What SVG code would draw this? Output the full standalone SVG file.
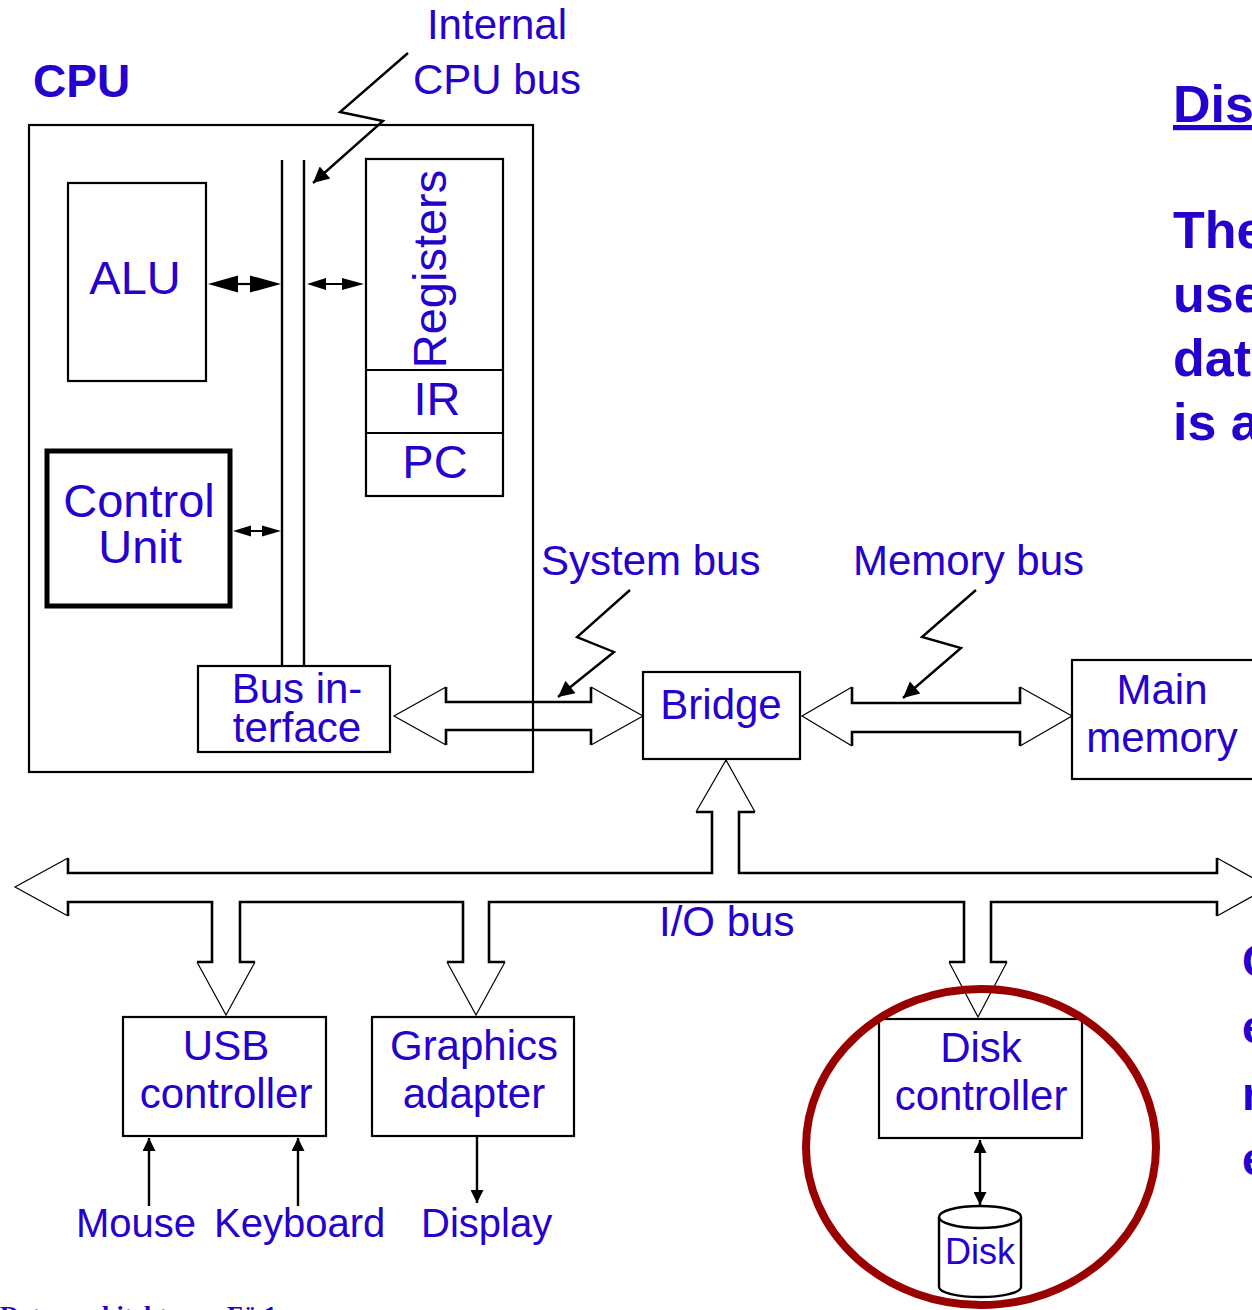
<svg xmlns="http://www.w3.org/2000/svg" width="1252" height="1310" viewBox="0 0 1252 1310">
<style>
.t{font-family:"Liberation Sans",Arial,sans-serif;fill:#2600cc;font-size:42px}
.b{font-weight:bold;font-size:46px}
.s{font-weight:bold;font-size:52px}
.m{text-anchor:middle}
.box{fill:none;stroke:#000;stroke-width:2.2}
.thk{fill:none;stroke:#000;stroke-width:2.6}
.thn{fill:none;stroke:#000;stroke-width:1.2}
.ln{fill:none;stroke:#000;stroke-width:2.4}
.f{font-family:"Liberation Serif","Times New Roman",serif;font-weight:bold;font-size:26px;fill:#2600cc}
</style>
<defs>
<marker id="ah" viewBox="0 0 10 10" refX="10" refY="5" markerWidth="22" markerHeight="16" markerUnits="userSpaceOnUse" orient="auto-start-reverse"><path d="M0,0 L10,5 L0,10 Z" fill="#000"/></marker>
<marker id="as" viewBox="0 0 10 10" refX="10" refY="5" markerWidth="17" markerHeight="13" markerUnits="userSpaceOnUse" orient="auto-start-reverse"><path d="M0,0 L10,5 L0,10 Z" fill="#000"/></marker>
</defs>
<rect width="1252" height="1310" fill="#fff"/>

<g id="cpu">
<rect class="box" x="29" y="125" width="504" height="647"/>
<text class="t b" x="33" y="97">CPU</text>
</g>
<g id="alu">
<rect class="box" x="68" y="183" width="138" height="198"/>
<text class="t m" x="135" y="294" style="font-size:47px">ALU</text>
</g>
<g id="registers">
<rect class="box" x="366" y="159" width="137" height="337"/>
<line class="box" x1="366" y1="370" x2="503" y2="370"/>
<line class="box" x1="366" y1="433" x2="503" y2="433"/>
<text class="t m" transform="translate(446,269) rotate(-90)" style="font-size:47px">Registers</text>
<text class="t m" x="437" y="415" style="font-size:47px">IR</text>
<text class="t m" x="435" y="478" style="font-size:47px">PC</text>
</g>
<g id="control-unit">
<rect x="47" y="451" width="183" height="155" fill="none" stroke="#000" stroke-width="5"/>
<text class="t m" x="139" y="517" style="font-size:47px">Control</text>
<text class="t m" x="140" y="563" style="font-size:47px">Unit</text>
</g>
<g id="internal-bus">
<line class="ln" x1="282" y1="160" x2="282" y2="666"/>
<line class="ln" x1="304" y1="160" x2="304" y2="666"/>
<text class="t m" x="497" y="39">Internal</text>
<text class="t" x="413" y="94">CPU bus</text>
</g>
<g id="bus-interface">
<rect class="box" x="198" y="666" width="192" height="86"/>
<text class="t m" x="297" y="703">Bus in-</text>
<text class="t m" x="297" y="742">terface</text>
</g>
<g id="bridge">
<rect class="box" x="643" y="672" width="157" height="87"/>
<text class="t m" x="721" y="719">Bridge</text>
</g>
<g id="main-memory">
<rect class="box" x="1072" y="660" width="190" height="119"/>
<text class="t m" x="1162" y="704">Main</text>
<text class="t m" x="1162" y="752">memory</text>
</g>
<g id="usb-controller">
<rect class="box" x="123" y="1017" width="203" height="119"/>
<text class="t m" x="226" y="1060">USB</text>
<text class="t m" x="226" y="1108">controller</text>
</g>
<g id="graphics-adapter">
<rect class="box" x="372" y="1017" width="202" height="119"/>
<text class="t m" x="474" y="1060">Graphics</text>
<text class="t m" x="474" y="1108">adapter</text>
</g>
<g id="disk-controller">
<rect class="box" x="879" y="1019" width="203" height="119"/>
<text class="t m" x="981" y="1062">Disk</text>
<text class="t m" x="981" y="1110">controller</text>
</g>
<g id="disk">
<path d="M939,1217 V1287 A41,10 0 0 0 1021,1287 V1217" fill="#fff" stroke="#000" stroke-width="2.4"/>
<ellipse cx="980" cy="1217" rx="41" ry="11" fill="#fff" stroke="#000" stroke-width="2.4"/>
<text class="t m" x="980" y="1264" style="font-size:36px">Disk</text>
</g>
<g id="labels">
<text class="t" x="541" y="575">System bus</text>
<text class="t" x="853" y="575">Memory bus</text>
<text class="t" x="659" y="936">I/O bus</text>
<text class="t" x="76" y="1237" style="font-size:40px">Mouse</text>
<text class="t" x="214" y="1237" style="font-size:40px">Keyboard</text>
<text class="t" x="421" y="1237" style="font-size:40px">Display</text>
</g>
<g id="side-text">
<text class="t s" x="1173" y="122" text-decoration="underline">Dis</text>
<text class="t s" x="1173" y="248">The</text>
<text class="t s" x="1173" y="312">use</text>
<text class="t s" x="1173" y="376">dat</text>
<text class="t s" x="1173" y="440">is a</text>
<text class="t b" x="1242" y="977">C</text>
<text class="t b" x="1242" y="1043">e</text>
<text class="t b" x="1242" y="1110">r</text>
<text class="t b" x="1242" y="1175">e</text>
<text class="f" x="0" y="1324">Datenarchitektur</text>
<text class="f" x="227" y="1324">Fü 1</text>
</g>

<g id="connectors">
<polyline class="ln" points="408,53 340,112 383,121 313,183" stroke-width="2.2" marker-end="url(#ah)"/>
<polyline class="ln" points="630,590 577,637 614,652 558,697" stroke-width="2.2" marker-end="url(#ah)"/>
<polyline class="ln" points="976,590 922,637 961,648 903,698" stroke-width="2.2" marker-end="url(#ah)"/>
<line x1="236" y1="284" x2="252" y2="284" stroke="#000" stroke-width="2.2"/>
<path d="M208,284 L238,275.5 L238,292.5 Z M281,284 L250,275.5 L250,292.5 Z" fill="#000"/>
<line x1="324" y1="284" x2="344" y2="284" stroke="#000" stroke-width="2"/>
<path d="M307,284 L326,278 L326,290 Z M364,284 L342,278 L342,290 Z" fill="#000"/>
<line x1="248" y1="531" x2="264" y2="531" stroke="#000" stroke-width="2"/>
<path d="M233,531 L251,525.5 L251,536.5 Z M281,531 L262,525.5 L262,536.5 Z" fill="#000"/>
<path class="thn" d="M446,687 L394,716 L446,745 M591,687 L643,716 L591,745"/>
<path class="thk" d="M446,687 V702 H591 V687 M591,745 V730 H446 V745"/>
<path class="thn" d="M852,687 L802,716 L852,746 M1020,687 L1072,716 L1020,746"/>
<path class="thk" d="M852,687 V703 H1020 V687 M1020,746 V732 H852 V746"/>
<path class="thn" d="M696,812 L726,760 L755,812 M1217,858 L1269,887 L1217,916 M1007,962 L978,1017 L949,962 M505,962 L476,1015 L447,962 M255,962 L226,1015 L197,962 M68,916 L15,887 L68,858"/>
<path class="thk" d="M68,858 V873 H712 V812 H696 M755,812 H739 V873 H1217 V858 M1217,916 V902 H991 V962 H1007 M949,962 H964 V902 H489 V962 H505 M447,962 H463 V902 H240 V962 H255 M197,962 H212 V902 H68 V916"/>
<line class="ln" x1="149" y1="1206" x2="149" y2="1138" marker-end="url(#as)"/>
<line class="ln" x1="298" y1="1206" x2="298" y2="1138" marker-end="url(#as)"/>
<line class="ln" x1="477" y1="1137" x2="477" y2="1203" marker-end="url(#as)"/>
<line class="ln" x1="980" y1="1140" x2="980" y2="1205" stroke-width="3" marker-start="url(#as)" marker-end="url(#as)"/>
</g>
<g id="highlight">
<ellipse cx="981" cy="1147" rx="175" ry="158" fill="none" stroke="#990000" stroke-width="8"/>
</g>
</svg>
